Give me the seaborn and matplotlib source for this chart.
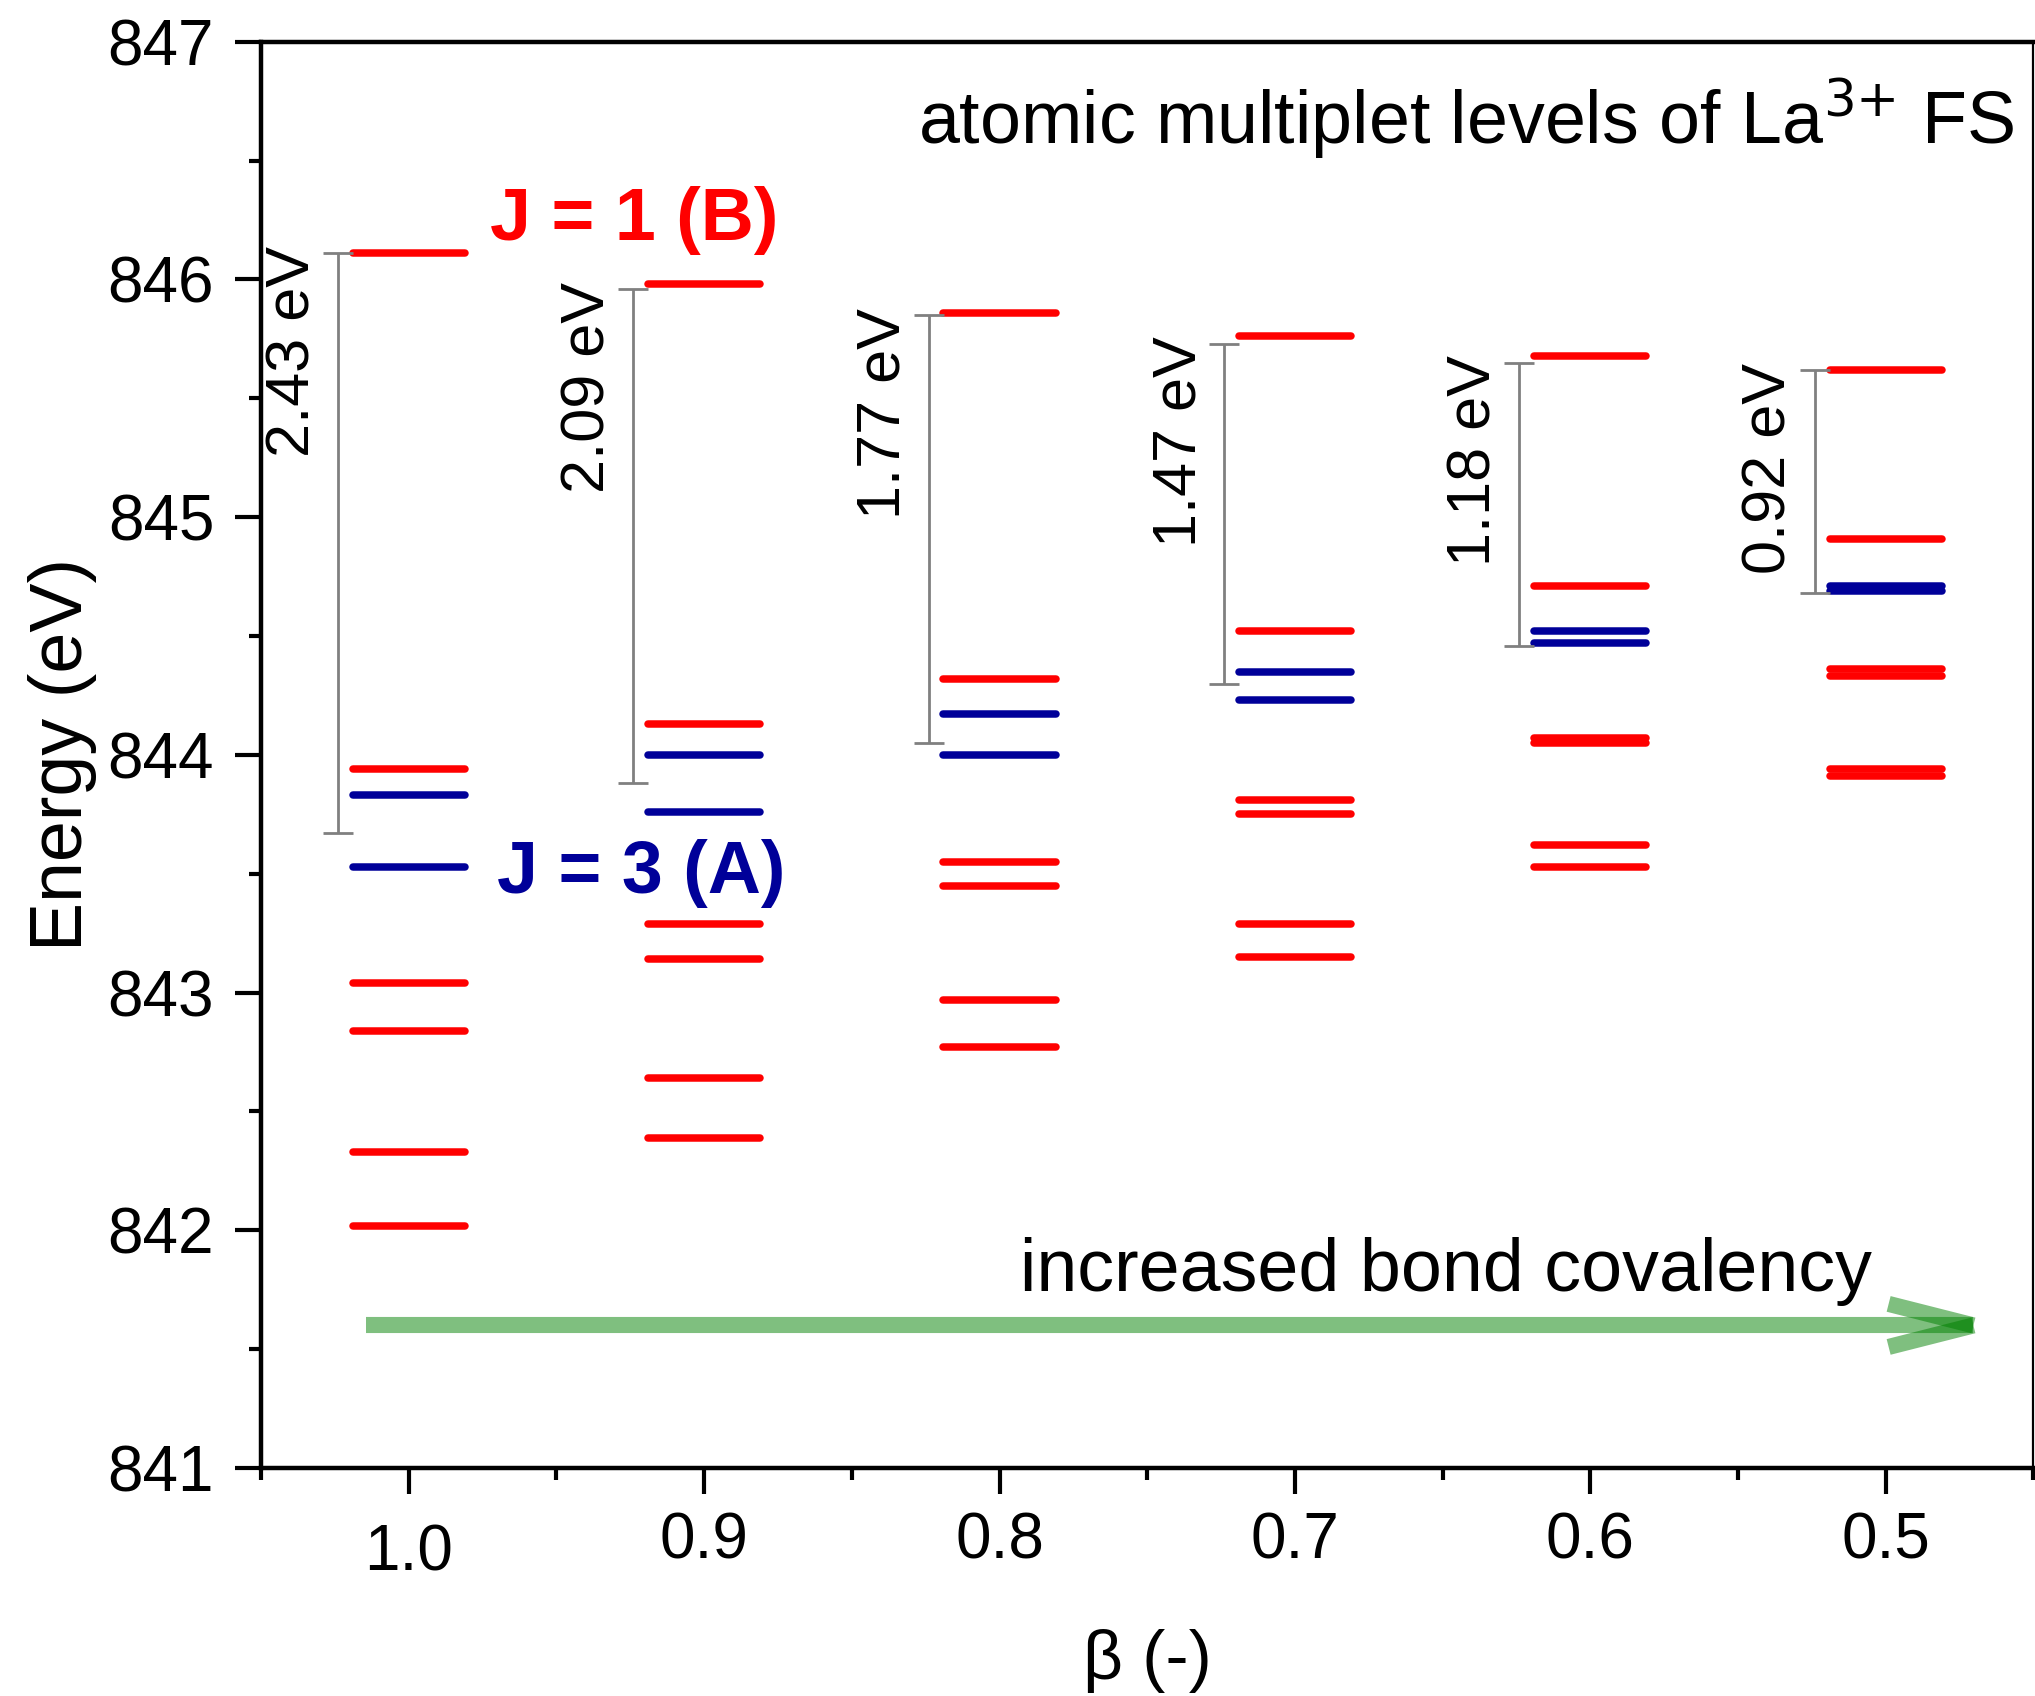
import matplotlib
matplotlib.use("Agg")
import numpy as np
import pandas as pd
import matplotlib.pyplot as plt
import matplotlib.transforms as mtransforms
import seaborn as sns
from matplotlib.ticker import MultipleLocator, FormatStrFormatter

# beta values (x positions of the level columns)
beta = [1.0, 0.9, 0.8, 0.7, 0.6, 0.5]

# red levels per beta (top one is J = 1 (B))
red_levels = [
    [846.11, 843.94, 843.04, 842.84, 842.33, 842.02],
    [845.98, 844.13, 843.29, 843.14, 842.64, 842.39],
    [845.86, 844.32, 843.55, 843.45, 842.97, 842.77],
    [845.76, 844.52, 843.81, 843.75, 843.29, 843.15],
    [845.68, 844.71, 844.07, 844.05, 843.62, 843.53],
    [845.62, 844.91, 844.36, 844.33, 843.94, 843.91],
]

# blue levels per beta (J = 3 (A))
blue_levels = [
    [843.83, 843.53],
    [844.00, 843.76],
    [844.17, 844.00],
    [844.35, 844.23],
    [844.52, 844.47],
    [844.71, 844.69],
]

# splitting bars
gap_top = [846.11, 845.96, 845.85, 845.73, 845.65, 845.62]
gap_bottom = [843.67, 843.88, 844.05, 844.30, 844.46, 844.68]
gap_labels = ["2.43 eV", "2.09 eV", "1.77 eV", "1.47 eV", "1.18 eV", "0.92 eV"]

# arrow annotation
arrow_start = 1.0145
arrow_tip = 0.4703
arrow_y = 841.60

RED = "#ff0000"
NAVY = "#000099"
GREEN = "#008000"


def build_segments() -> pd.DataFrame:
    half = 0.019
    rows = []
    level = 0
    for b, reds, blues in zip(beta, red_levels, blue_levels):
        for kind, vals in (("J1", reds), ("J3", blues)):
            for e in vals:
                rows.append({"x": b + half, "energy": e, "kind": kind, "level": level})
                rows.append({"x": b - half, "energy": e, "kind": kind, "level": level})
                level += 1
    return pd.DataFrame(rows)


def main() -> None:
    sns.set_theme(style="ticks")
    plt.rcParams["font.family"] = ["Liberation Sans", "DejaVu Sans"]
    plt.rcParams["mathtext.default"] = "regular"
    plt.rcParams["text.color"] = "black"
    plt.rcParams["axes.labelcolor"] = "black"
    plt.rcParams["xtick.color"] = "black"
    plt.rcParams["ytick.color"] = "black"
    plt.rcParams["xtick.labelcolor"] = "black"
    plt.rcParams["ytick.labelcolor"] = "black"

    fig = plt.figure(figsize=(10.175, 8.48), dpi=200)
    ax = fig.add_axes([0.1283, 0.1344, 0.8709, 0.841])

    seg = build_segments()
    sns.lineplot(
        data=seg,
        x="x",
        y="energy",
        hue="kind",
        units="level",
        estimator=None,
        palette={"J1": RED, "J3": NAVY},
        linewidth=2.7,
        solid_capstyle="round",
        legend=False,
        sort=False,
        ax=ax,
    )

    top = np.array(gap_top)
    bottom = np.array(gap_bottom)
    bx = np.array(beta) + 0.024
    ax.errorbar(
        bx,
        (top + bottom) / 2,
        yerr=(top - bottom) / 2,
        fmt="none",
        ecolor="#808080",
        elinewidth=1.0,
        capsize=5.4,
        capthick=1.0,
    )
    for b, t, lab in zip(beta, gap_top, gap_labels):
        ax.text(b + 0.039, t + 0.03, lab, rotation=90, ha="center", va="top",
                fontsize=22, color="black")

    ax.text(0.9724, 846.25, "J = 1 (B)", color=RED, fontsize=26.5,
            fontweight="bold", ha="left", va="center")
    ax.text(0.9702, 843.50, "J = 3 (A)", color=NAVY, fontsize=26.5,
            fontweight="bold", ha="left", va="center")
    ax.text(0.4564, 846.57, r"atomic multiplet levels of La$^{\text{3+}}$ FS",
            fontsize=26.5, ha="right", va="baseline", color="black")
    ax.text(0.5045, 841.743, "increased bond covalency", fontsize=26.5,
            ha="right", va="baseline", color="black")

    # green arrow: shaft plus two barbs
    head_len = 0.0287
    head_half = 0.0905
    lw_arrow = 5.8
    ax.plot([arrow_start, arrow_tip], [arrow_y, arrow_y], color=GREEN,
            alpha=0.5, lw=lw_arrow, solid_capstyle="butt")
    for sgn in (1, -1):
        ax.plot([arrow_tip + head_len, arrow_tip],
                [arrow_y + sgn * head_half, arrow_y], color=GREEN,
                alpha=0.5, lw=lw_arrow, solid_capstyle="butt")

    ax.set_xlim(1.05, 0.45)
    ax.set_ylim(841, 847)
    ax.xaxis.set_major_locator(MultipleLocator(0.1))
    ax.xaxis.set_minor_locator(MultipleLocator(0.05))
    ax.xaxis.set_major_formatter(FormatStrFormatter("%.1f"))
    ax.yaxis.set_major_locator(MultipleLocator(1))
    ax.yaxis.set_minor_locator(MultipleLocator(0.5))
    ax.yaxis.set_major_formatter(FormatStrFormatter("%d"))
    ax.set_xticks([1.0, 0.9, 0.8, 0.7, 0.6, 0.5])

    ax.tick_params(axis="both", which="major", direction="out", length=9.4,
                   width=1.5, labelsize=23, color="black", labelcolor="black")
    ax.tick_params(axis="both", which="minor", direction="out", length=4.3,
                   width=1.5, color="black")
    ax.tick_params(axis="y", which="major", pad=7.5)
    ax.tick_params(axis="x", which="major", pad=6.4)

    # the 1.0 label sits a bit lower in the original
    first = ax.get_xticklabels()[0]
    first.set_transform(first.get_transform()
                        + mtransforms.ScaledTranslation(0, -4 / 72, fig.dpi_scale_trans))

    for side in ("left", "bottom", "top"):
        ax.spines[side].set_linewidth(1.6)
        ax.spines[side].set_color("black")
    ax.spines["right"].set_linewidth(0.8)
    ax.spines["right"].set_color("black")

    ax.set_xlabel("β (-)", fontsize=25, color="black")
    ax.set_ylabel("Energy (eV)", fontsize=26.5, color="black")
    ax.xaxis.set_label_coords(0.5, -0.113)
    ax.yaxis.set_label_coords(-0.0925, 0.5)
    ax.xaxis.label.set_va("top")

    fig.savefig("out.png", dpi=200)
    plt.close(fig)


if __name__ == "__main__":
    main()
